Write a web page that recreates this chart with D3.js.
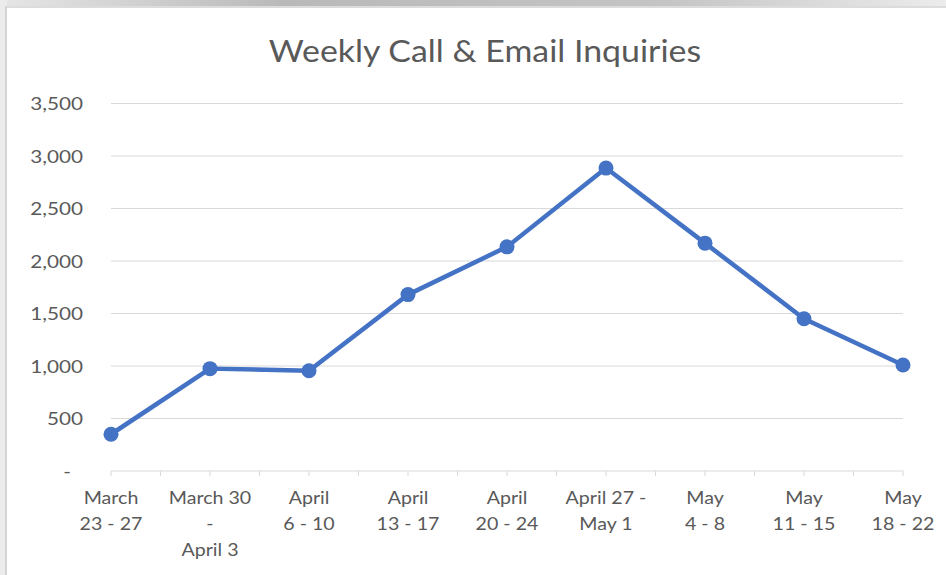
<!DOCTYPE html>
<html>
<head>
<meta charset="utf-8">
<script src="https://cdn.jsdelivr.net/npm/d3@7"></script>
<style>
  body { margin: 0; background: #fff; }
  text { font-family: Lato, "Open Sans", sans-serif; fill: #595959; }
</style>
</head>
<body>
<script>
// weekly totals
var weeks = [["March", "23 - 27"], ["March 30", "-", "April 3"], ["April", "6 - 10"],
  ["April", "13 - 17"], ["April", "20 - 24"], ["April 27 -", "May 1"],
  ["May", "4 - 8"], ["May", "11 - 15"], ["May", "18 - 22"]];
var inquiries = [350, 975, 955, 1680, 2135, 2885, 2170, 1450, 1010];
var yTicks = [0, 500, 1000, 1500, 2000, 2500, 3000, 3500];

var width = 946,
    height = 575;
var svg = d3.select("body")
    .append("svg")
    .attr("width", width)
    .attr("height", height);

// window frame / shadow at top and left
var grad = svg.append("defs").append("linearGradient").attr("id", "topshade");
grad.append("stop").attr("offset", "0%").attr("stop-color", "#e6e6e6");
grad.append("stop").attr("offset", "30%").attr("stop-color", "#b9b9b9");
grad.append("stop").attr("offset", "70%").attr("stop-color", "#c4c4c4");
grad.append("stop").attr("offset", "100%").attr("stop-color", "#ececec");
svg.append("rect").attr("x", 0).attr("y", 0).attr("width", width).attr("height", 6)
    .attr("fill", "url(#topshade)");
svg.append("rect").attr("x", 0).attr("y", 6).attr("width", width).attr("height", 2)
    .attr("fill", "#dcdcdc");
svg.append("rect").attr("x", 0).attr("y", 0).attr("width", 7).attr("height", height)
    .attr("fill", "#ececec");
svg.append("rect").attr("x", 5).attr("y", 6).attr("width", 2).attr("height", height)
    .attr("fill", "#d4d4d4");

var x = d3.scalePoint()
    .domain(d3.range(weeks.length))
    .range([111, 903]);
var y = d3.scaleLinear()
    .domain([0, 3500])
    .range([471, 103.5]);

// the source font is wider than Lato, so stretch text a bit
svg.append("text")
    .attr("transform", "translate(485,62) scale(1.13,1)")
    .attr("text-anchor", "middle")
    .style("font-size", "30px")
    .text("Weekly Call & Email Inquiries");

// gridlines
svg.selectAll(".grid")
    .data(yTicks.slice(1))
    .enter()
    .append("line")
    .attr("x1", 111).attr("x2", 903)
    .attr("y1", function (d) { return y(d); })
    .attr("y2", function (d) { return y(d); })
    .attr("stroke", "#d9d9d9")
    .attr("stroke-width", 1);

// y labels
svg.selectAll(".ylab")
    .data(yTicks)
    .enter()
    .append("text")
    .attr("transform", function (d) {
        return "translate(" + (d === 0 ? 71 : 83) + "," + (y(d) + 6.5) + ") scale(1.15,1)";
    })
    .attr("text-anchor", "end")
    .style("font-size", "18px")
    .text(function (d) { return d === 0 ? "-" : d3.format(",")(d); });

// x axis line and ticks (at categories and between them)
var step = x.step();
svg.append("line")
    .attr("x1", 111).attr("x2", 903)
    .attr("y1", y(0)).attr("y2", y(0))
    .attr("stroke", "#d9d9d9");
svg.selectAll(".tick")
    .data(d3.range(0, weeks.length - 0.5, 0.5))
    .enter()
    .append("line")
    .attr("x1", function (d) { return x(0) + d * step; })
    .attr("x2", function (d) { return x(0) + d * step; })
    .attr("y1", y(0)).attr("y2", y(0) + 5)
    .attr("stroke", "#d9d9d9");

// x labels
var xl = svg.selectAll(".xlab")
    .data(weeks)
    .enter()
    .append("text")
    .attr("text-anchor", "middle")
    .style("font-size", "18px")
    .attr("transform", function (d, i) { return "translate(" + x(i) + ",504) scale(1.09,1)"; });
xl.selectAll("tspan")
    .data(function (d) { return d; })
    .enter()
    .append("tspan")
    .attr("x", 0)
    .attr("y", function (d, i) { return i * 26; })
    .text(function (d) { return d; });

var line = d3.line()
    .x(function (d, i) { return x(i); })
    .y(function (d) { return y(d); });
svg.append("path")
    .datum(inquiries)
    .attr("d", line)
    .attr("fill", "none")
    .attr("stroke", "#4472c4")
    .attr("stroke-width", 4.5)
    .attr("stroke-linejoin", "round");

svg.selectAll(".dot")
    .data(inquiries)
    .enter()
    .append("circle")
    .attr("cx", function (d, i) { return x(i); })
    .attr("cy", function (d) { return y(d); })
    .attr("r", 7.5)
    .attr("fill", "#4472c4");
</script>
</body>
</html>
